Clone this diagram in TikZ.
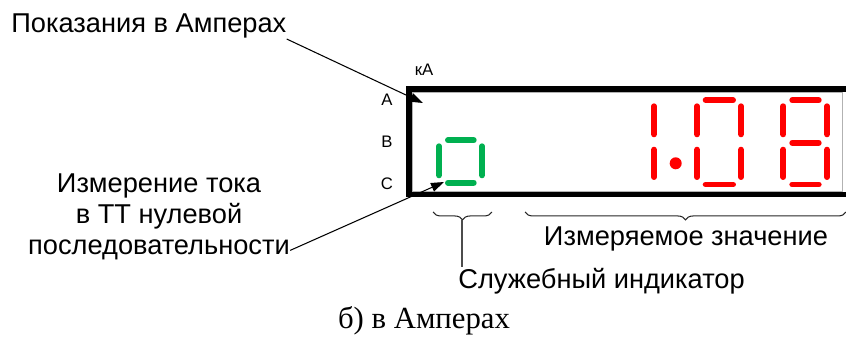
\documentclass[tikz,border=0pt]{standalone}
\usepackage{fontspec}
\setmainfont{Liberation Sans}
\newfontfamily\captionserif{Liberation Serif}
\usetikzlibrary{arrows.meta, decorations.pathreplacing}
\definecolor{segred}{HTML}{FF0000}
\definecolor{seggreen}{HTML}{00B050}

\begin{document}
\begin{tikzpicture}[x=0.02cm, y=-0.02cm,
  label/.style={inner sep=0pt, font=\fontsize{15.5}{18}\selectfont},
  phase/.style={inner sep=0pt, font=\fontsize{9.5}{11}\selectfont},
  leader/.style={line width=0.6pt, -{Triangle[length=2.6mm, width=1.8mm]}},
  seg/.style={line width=3.4pt, line cap=round},
  curly/.style={black!85, line width=0.6pt, decorate, decoration={brace, mirror, amplitude=4.5pt}}]
\useasboundingbox (0,0) rectangle (846,341);

% display frame
\draw[gray!60, line width=0.5pt] (412,92) rectangle (842,191.5);
\draw[line width=3.2pt] (846,89) -- (409,89) -- (409,194.5) -- (846,194.5);

% unit and phases
\node[phase] (unitkA) at (424,70) {кА};
\node[phase] (phA) at (387,100) {A};
\node[phase] (phB) at (387,141.7) {B};
\node[phase] (phC) at (387,183.5) {C};

% service digit (green)
\draw[seg, seggreen] (448,140.3) -- (473.7,140.3);
\draw[seg, seggreen] (439,146.3) -- (439,175.3);
\draw[seg, seggreen] (482,146.3) -- (482,175.3);
\draw[seg, seggreen] (448,182.7) -- (473.7,182.7);

% measured value, digit 1 and point
\draw[seg, segred] (654,106.3) -- (654,134.3);
\draw[seg, segred] (654,149.7) -- (654,177);
\fill[segred] (675.7,163.3) circle[radius=6];

% digit 0
\draw[seg, segred] (705.7,100.3) -- (733,100.3);
\draw[seg, segred] (697,106.3) -- (697,134.3);
\draw[seg, segred] (697,149.7) -- (697,177);
\draw[seg, segred] (741,106.3) -- (741,134.3);
\draw[seg, segred] (741,149.7) -- (741,177);
\draw[seg, segred] (705.7,184.5) -- (733,184.5);

% digit 8
\draw[seg, segred] (792.3,100.3) -- (818.7,100.3);
\draw[seg, segred] (783.3,106.3) -- (783.3,134.3);
\draw[seg, segred] (783.3,149.7) -- (783.3,177);
\draw[seg, segred] (827,106.3) -- (827,134.3);
\draw[seg, segred] (827,149.7) -- (827,177);
\draw[seg, segred] (792.3,142.8) -- (818.7,142.8);
\draw[seg, segred] (792.3,184.5) -- (818.7,184.5);

% reading in amperes
\node[label, anchor=base west] (showamps) at (11,33) {Показания в Амперах};
\coordinate (tipA) at (423,103);
\draw[leader] (showamps.south east) -- (tipA);

% zero sequence CT
\node[label, anchor=base] (zeroseqa) at (159,193) {Измерение тока};
\node[label, anchor=base] (zeroseqb) at (159,224) {в ТТ нулевой};
\node[label, anchor=base] (zeroseqc) at (159,255) {последовательности};
\coordinate (tipC) at (444,182);
\draw[leader] (zeroseqc.east) -- (tipC);

% braces
\draw[curly] (433,212) -- (492,212);
\draw[curly] (525,212) -- (846,212);
\node[label, anchor=base west] (service) at (458,288) {Служебный индикатор};
\coordinate (servicetip) at (462,220);
\draw[black!70, line width=0.6pt] (servicetip) -- (servicetip |- service.north);
\node[label, anchor=base] (measured) at (686,246) {Измеряемое значение};

% caption
\node[inner sep=0pt, anchor=base, font=\captionserif\fontsize{17.5}{21}\selectfont] (caption) at (424,328) {б) в Амперах};
\end{tikzpicture}
\end{document}
